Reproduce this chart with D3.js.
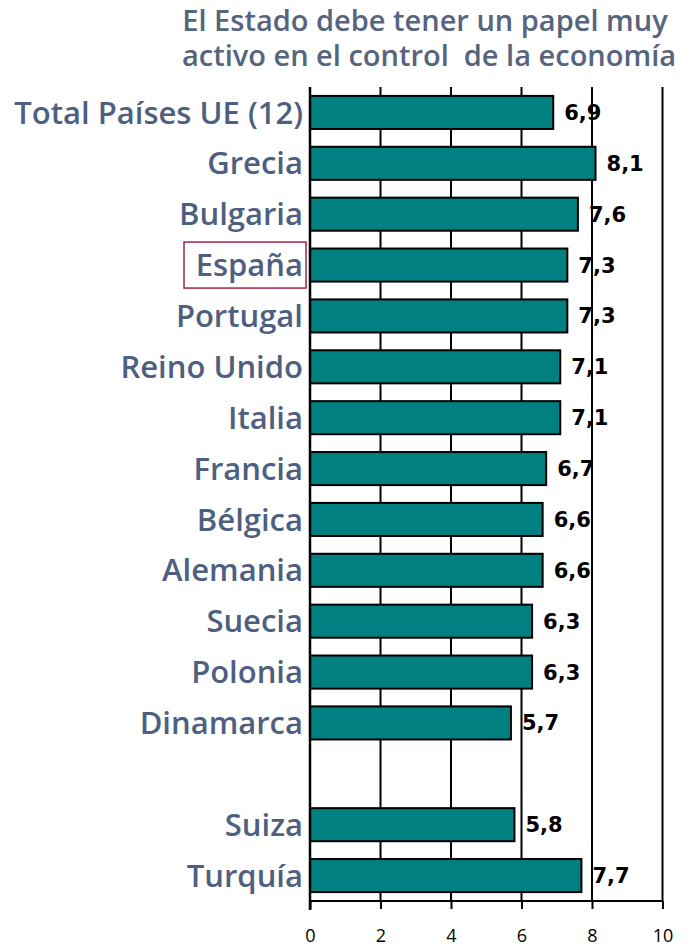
<!DOCTYPE html>
<html>
<head>
<meta charset="utf-8">
<script src="https://cdn.jsdelivr.net/npm/d3@7"></script>
<style>
  body { margin: 0; background: #fff; }
</style>
</head>
<body>
<div id="chart"></div>
<script>
// data
const categories = ["Total Países UE (12)", "Grecia", "Bulgaria", "España", "Portugal",
  "Reino Unido", "Italia", "Francia", "Bélgica", "Alemania", "Suecia", "Polonia",
  "Dinamarca", "", "Suiza", "Turquía"];
const values = [6.9, 8.1, 7.6, 7.3, 7.3, 7.1, 7.1, 6.7, 6.6, 6.6, 6.3, 6.3, 5.7, null, 5.8, 7.7];
const ticks = [0, 2, 4, 6, 8, 10];
const titleLines = ["El Estado debe tener un papel muy", "activo en el control  de la economía"];
const highlight = "España";

const W = 692, H = 946;
const labelColor = "#4f5f7f";
const font = "'Open Sans', 'DejaVu Sans', sans-serif";

const svg = d3.select("#chart").append("svg")
    .attr("width", W)
    .attr("height", H);

const keys = categories.map((c, i) => c || "gap" + i);

const x = d3.scaleLinear().domain([0, 10]).range([310, 662.5]);
const y = d3.scaleBand().domain(keys).range([87, 901]).paddingInner(0.35).paddingOuter(0.175);

// title
svg.append("g")
  .selectAll("text")
  .data(titleLines)
  .join("text")
    .attr("x", (d, i) => i ? 429 : 425)
    .attr("y", (d, i) => 31 + i * 35)
    .attr("text-anchor", "middle")
    .attr("fill", "#56647e")
    .style("font-family", font)
    .style("font-weight", 600)
    .style("font-size", "29px")
    .style("white-space", "pre")
    .text(d => d);

// gridlines behind the bars
svg.append("g")
  .selectAll("line")
  .data(ticks.slice(1))
  .join("line")
    .attr("x1", d => x(d)).attr("x2", d => x(d))
    .attr("y1", 87).attr("y2", 901)
    .attr("stroke", "#000")
    .attr("stroke-width", 2);

// bars
const rows = categories.map((c, i) => ({key: keys[i], name: c, value: values[i]}))
  .filter(d => d.value != null);

svg.append("g")
  .selectAll("rect")
  .data(rows)
  .join("rect")
    .attr("x", x(0))
    .attr("y", d => y(d.key))
    .attr("width", d => x(d.value) - x(0))
    .attr("height", y.bandwidth())
    .attr("fill", "#008080")
    .attr("stroke", "#000")
    .attr("stroke-width", 2);

// value labels
svg.append("g")
  .selectAll("text")
  .data(rows)
  .join("text")
    .attr("x", d => x(d.value) + 11)
    .attr("y", d => y(d.key) + y.bandwidth() / 2)
    .attr("dy", "0.36em")
    .attr("fill", "#000")
    .style("font-family", "'DejaVu Sans', sans-serif")
    .style("font-weight", 700)
    .style("font-size", "21px")
    .text(d => d.value.toFixed(1).replace(".", ","));

// category labels
svg.append("g")
  .selectAll("text")
  .data(rows)
  .join("text")
    .attr("x", 303)
    .attr("y", d => y(d.key) + y.bandwidth() / 2)
    .attr("dy", "0.36em")
    .attr("text-anchor", "end")
    .attr("fill", labelColor)
    .style("font-family", font)
    .style("font-weight", 600)
    .style("font-size", "31px")
    .text(d => d.name);

// highlight box around España
const hl = y(highlight) + y.bandwidth() / 2;
svg.append("rect")
    .attr("x", 184).attr("y", hl - 23)
    .attr("width", 122).attr("height", 46)
    .attr("fill", "none")
    .attr("stroke", "#a0244a")
    .attr("stroke-width", 1.5);

// bottom axis
const axis = svg.append("g")
    .attr("transform", "translate(0,901)")
    .call(d3.axisBottom(x).tickValues(ticks).tickSize(8).tickFormat(d3.format("d")));
axis.select(".domain").attr("stroke-width", 2).attr("d", `M${x(0)},0H${x(10)}`);
axis.selectAll(".tick line").attr("stroke-width", 2);
axis.selectAll(".tick text")
    .attr("y", 35)
    .attr("dy", "0.35em")
    .attr("fill", "#000")
    .style("font-family", font)
    .style("font-size", "18px");

// left axis line
svg.append("line")
    .attr("x1", x(0)).attr("x2", x(0))
    .attr("y1", 87).attr("y2", 910)
    .attr("stroke", "#000")
    .attr("stroke-width", 2.5);
</script>
</body>
</html>
